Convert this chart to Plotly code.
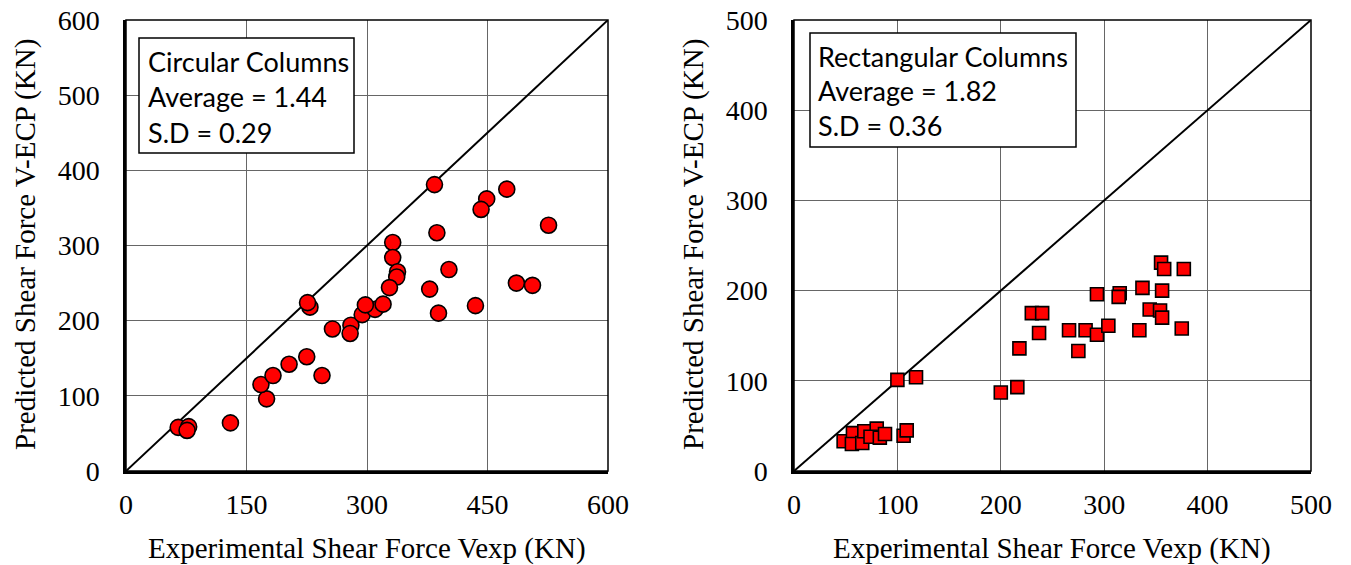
import plotly.graph_objects as go

# ---- data: circular columns ----
circ_vexp = [65, 78, 76, 130, 175, 168, 183, 203, 225, 244, 257, 280, 279, 294, 310, 320,
             298, 229, 226, 332, 332, 338, 337, 328, 384, 449, 442, 474, 526, 387, 402, 378,
             486, 506, 435, 389]
circ_vecp = [58, 59, 54, 64, 96, 115, 127, 142, 152, 127, 189, 194, 183, 208, 215, 222,
             221, 218, 224, 304, 284, 265, 258, 244, 381, 362, 348, 375, 327, 317, 268, 242,
             250, 247, 220, 210]

# ---- data: rectangular columns ----
rect_vexp = [48, 57, 56, 66, 68, 80, 74, 83, 88, 106, 109, 100, 118, 200, 216, 218, 237,
             230, 240, 266, 282, 275, 293, 304, 293, 315, 314, 337, 334, 344, 354, 356,
             356, 355, 358, 377, 375]
rect_vecp = [33, 42, 30, 31, 44, 47, 38, 37, 41, 39, 45, 101, 104, 87, 93, 136, 153,
             175, 175, 156, 156, 133, 151, 161, 196, 197, 193, 203, 156, 179, 178, 170,
             200, 231, 224, 224, 158]

left_range = [0, 600]
right_range = [0, 500]
left_ticks = [0, 150, 300, 450, 600]
left_yticks = [0, 100, 200, 300, 400, 500, 600]
right_ticks = [0, 100, 200, 300, 400, 500]

left_box = ["Circular Columns", "Average = 1.44", "S.D = 0.29"]
right_box = ["Rectangular Columns", "Average = 1.82", "S.D = 0.36"]
x_title = "Experimental Shear Force Vexp (KN)"
y_title = "Predicted Shear Force V-ECP (KN)"

W, H = 1351, 565
def px(x):
    return x / W
def py(y):
    return 1 - y / H

fig = go.Figure()

# diagonal lines
fig.add_trace(go.Scatter(x=left_range, y=left_range, mode="lines",
                         line=dict(color="black", width=2), xaxis="x", yaxis="y",
                         showlegend=False, hoverinfo="skip"))
fig.add_trace(go.Scatter(x=right_range, y=right_range, mode="lines",
                         line=dict(color="black", width=2), xaxis="x2", yaxis="y2",
                         showlegend=False, hoverinfo="skip"))

fig.add_trace(go.Scatter(x=circ_vexp, y=circ_vecp, mode="markers",
                         marker=dict(symbol="circle", size=16, color="#FF0000",
                                     line=dict(color="black", width=1.6)),
                         xaxis="x", yaxis="y", showlegend=False))
fig.add_trace(go.Scatter(x=rect_vexp, y=rect_vecp, mode="markers",
                         marker=dict(symbol="square", size=13, color="#FF0000",
                                     line=dict(color="black", width=1.6)),
                         xaxis="x2", yaxis="y2", showlegend=False))

tickfont = dict(family="Liberation Serif", size=28, color="black")
common = dict(showgrid=True, gridcolor="#666666", gridwidth=1.3, zeroline=False,
              showline=True, linecolor="black", linewidth=2.5, ticks="",
              tickfont=tickfont, fixedrange=True, automargin=False)
xcommon = dict(common, ticklabelstandoff=7)
ycommon = dict(common, ticklabelstandoff=18)

ydom = [py(471), py(20)]
fig.update_layout(
    width=W, height=H,
    margin=dict(l=0, r=0, t=0, b=0),
    paper_bgcolor="white", plot_bgcolor="white",
    xaxis=dict(domain=[px(126), px(608)], range=left_range, tickvals=left_ticks,
               anchor="y", **xcommon),
    yaxis=dict(domain=ydom, range=left_range, tickvals=left_yticks,
               anchor="x", **ycommon),
    xaxis2=dict(domain=[px(794), px(1311)], range=right_range, tickvals=right_ticks,
                anchor="y2", **xcommon),
    yaxis2=dict(domain=ydom, range=right_range, tickvals=right_ticks,
                anchor="x2", **ycommon),
)

shapes = []
# frames
for xr, yr in [("x domain", "y domain"), ("x2 domain", "y2 domain")]:
    shapes.append(dict(type="rect", xref=xr, yref=yr, x0=0, x1=1, y0=0, y1=1,
                       line=dict(color="black", width=1.5), layer="above"))
# text boxes
shapes.append(dict(type="rect", xref="paper", yref="paper",
                   x0=px(139), x1=px(354), y0=py(153), y1=py(38),
                   line=dict(color="black", width=1.5), fillcolor="white", layer="above"))
shapes.append(dict(type="rect", xref="paper", yref="paper",
                   x0=px(810), x1=px(1076), y0=py(147), y1=py(33),
                   line=dict(color="black", width=1.5), fillcolor="white", layer="above"))
fig.update_layout(shapes=shapes)

boxfont = dict(family="Lato", size=27, color="black")
anns = []
for i, t in enumerate(left_box):
    anns.append(dict(text=t, xref="paper", yref="paper", x=px(146), y=py(62 + 35 * i),
                     xanchor="left", yanchor="middle", showarrow=False, font=boxfont))
for i, t in enumerate(right_box):
    anns.append(dict(text=t, xref="paper", yref="paper", x=px(816), y=py(56 + 35 * i),
                     xanchor="left", yanchor="middle", showarrow=False, font=boxfont))
titlefont = dict(family="Liberation Serif", size=29, color="black")
for cx in [367, 1052]:
    anns.append(dict(text=x_title, xref="paper", yref="paper", x=px(cx), y=py(548),
                     xanchor="center", yanchor="middle", showarrow=False, font=titlefont))
for cx in [25, 693]:
    anns.append(dict(text=y_title, xref="paper", yref="paper", x=px(cx), y=py(245),
                     xanchor="center", yanchor="middle", showarrow=False, font=titlefont,
                     textangle=-90))
fig.update_layout(annotations=anns)

fig.write_html("out.html", config={"displayModeBar": False},
               post_script="document.body.style.margin='0';document.body.style.overflow='hidden';")
